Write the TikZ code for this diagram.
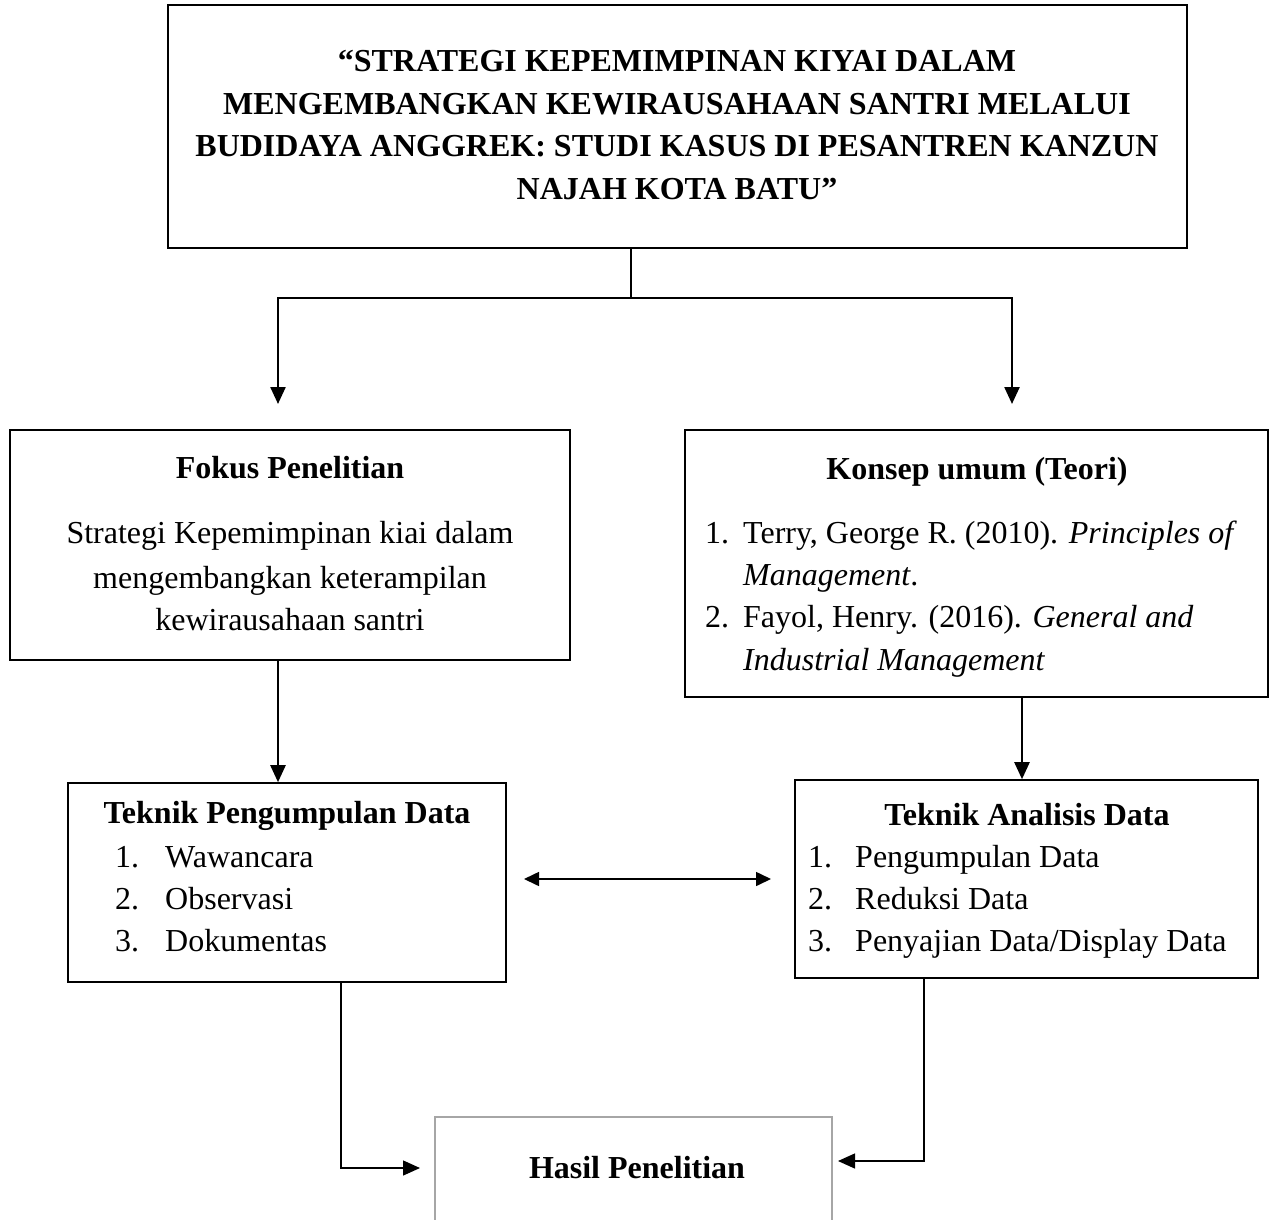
\documentclass[tikz,border=0pt]{standalone}
\usepackage{fontspec}
\setmainfont{Liberation Serif}
\usetikzlibrary{arrows.meta}
\begin{document}
\begin{tikzpicture}[x=1pt,y=-1pt,
  box/.style={draw, line width=1.6pt, rectangle, inner sep=0pt},
  tbox/.style={box, line width=2.6pt},
  gbox/.style={draw=black!35, line width=1.8pt},
  conn/.style={line width=2.4pt},
  arr/.style={conn, -{Triangle[length=17pt,width=15pt]}},
  darr/.style={line width=1.6pt, {Triangle[length=15pt,width=14pt]}-{Triangle[length=15pt,width=14pt]}},
  txt/.style={inner sep=0pt, anchor=base, font=\fontsize{32}{42}\selectfont},
  btxt/.style={txt, font=\fontsize{32}{42}\selectfont\bfseries},
  ltxt/.style={txt, anchor=base west},
]
\useasboundingbox (0,0) rectangle (1275,1220);
\fill[white] (0,0) rectangle (1275,1220);

% boxes
\node[tbox, minimum width=1019pt, minimum height=243pt] (title) at (677.5,126.5) {};
\node[box, minimum width=560pt, minimum height=230pt] (fokus) at (290,545) {};
\node[box, minimum width=583pt, minimum height=267pt] (konsep) at (976.5,563.5) {};
\node[box, minimum width=438pt, minimum height=199pt] (tk) at (287,882.5) {};
\node[box, minimum width=463pt, minimum height=198pt] (ta) at (1026.5,879) {};
\coordinate (hTL) at (435,1117);
\coordinate (hTR) at (832,1117);
\coordinate (hBL) at (435,1225);
\coordinate (hBR) at (832,1225);
\draw[gbox] (hBL) -- (hTL) -- (hTR) -- (hBR);
\node[btxt] (hasil) at (637,1178) {Hasil Penelitian};

% title text
\node[btxt] (t1) at (677,72) {“STRATEGI KEPEMIMPINAN KIYAI DALAM};
\node[btxt] (t2) at (677,115) {MENGEMBANGKAN KEWIRAUSAHAAN SANTRI MELALUI};
\node[btxt] (t3) at (677,157) {BUDIDAYA ANGGREK: STUDI KASUS DI PESANTREN KANZUN};
\node[btxt] (t4) at (677,200) {NAJAH KOTA BATU”};

% fokus
\node[btxt] (f0) at (290,478) {Fokus Penelitian};
\node[txt] (f1) at (290,543) {Strategi Kepemimpinan kiai dalam};
\node[txt] (f2) at (290,588) {mengembangkan keterampilan};
\node[txt] (f3) at (290,630) {kewirausahaan santri};

% konsep
\node[btxt] (k0) at (977,479) {Konsep umum (Teori)};
\node[ltxt] (k1n) at (705,543) {1.};
\node[ltxt] (k1) at (743,543) {Terry, George R. (2010). \textit{Principles of}};
\node[ltxt] (k2) at (743,585) {\textit{Management}.};
\node[ltxt] (k3n) at (705,627) {2.};
\node[ltxt] (k3) at (743,627) {Fayol, Henry. (2016). \textit{General and}};
\node[ltxt] (k4) at (743,670) {\textit{Industrial Management}};

% teknik pengumpulan
\node[btxt] (p0) at (287,823) {Teknik Pengumpulan Data};
\node[ltxt] (p1n) at (115,867) {1.};
\node[ltxt] (p1) at (165,867) {Wawancara};
\node[ltxt] (p2n) at (115,909) {2.};
\node[ltxt] (p2) at (165,909) {Observasi};
\node[ltxt] (p3n) at (115,951) {3.};
\node[ltxt] (p3) at (165,951) {Dokumentas};

% teknik analisis
\node[btxt] (a0) at (1027,825) {Teknik Analisis Data};
\node[ltxt] (a1n) at (808,867) {1.};
\node[ltxt] (a1) at (855,867) {Pengumpulan Data};
\node[ltxt] (a2n) at (808,909) {2.};
\node[ltxt] (a2) at (855,909) {Reduksi Data};
\node[ltxt] (a3n) at (808,951) {3.};
\node[ltxt] (a3) at (855,951) {Penyajian Data/Display Data};

% connector helpers
\coordinate (j) at (631,298);
\coordinate (jL) at (278,298);
\coordinate (jR) at (1012,298);
\coordinate (eL) at (278,404);
\coordinate (eR) at (1012,404);
\coordinate (xF) at (278,0);
\coordinate (xK) at (1022,0);
\coordinate (dL) at (524,879);
\coordinate (dR) at (771,879);
\coordinate (xP) at (341,0);
\coordinate (xA) at (924,0);
\coordinate (hL) at (420,1168);
\coordinate (hR) at (838,1161);

% connectors
\draw[conn, line width=2.8pt] (title.south -| j) -- (j);
\draw[conn, line cap=rect] (jL) -- (jR);
\draw[arr] (jL) -- (eL);
\draw[arr] (jR) -- (eR);
\draw[arr] (fokus.south -| xF) -- (tk.north -| xF);
\draw[arr] (konsep.south -| xK) -- (ta.north -| xK);
\draw[darr] (dL) -- (dR);
\draw[arr, line width=1.4pt] (tk.south -| xP) |- (hL);
\draw[arr, line width=1.4pt] (ta.south -| xA) |- (hR);
\end{tikzpicture}
\end{document}
